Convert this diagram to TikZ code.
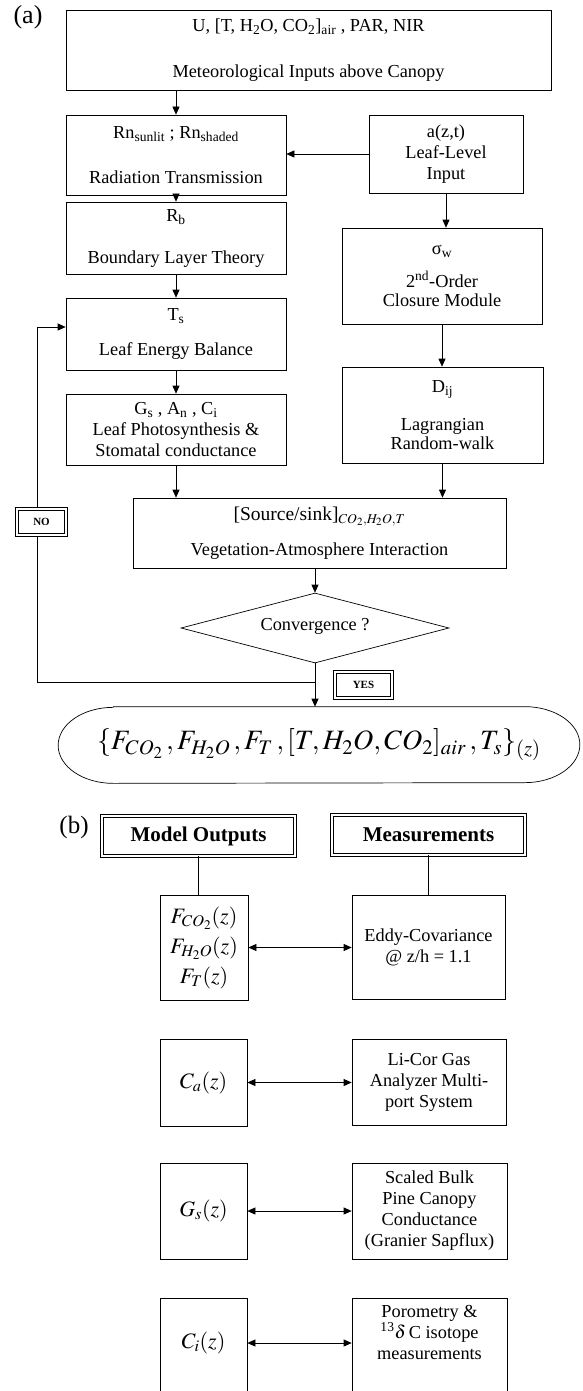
\documentclass[tikz,border=0pt]{standalone}
\usepackage{mathptmx}
\usepackage{fontspec}
\setmainfont{Liberation Serif}
\usepackage{tikz}
\usetikzlibrary{arrows.meta, positioning, shapes.geometric}

\begin{document}
\begin{tikzpicture}[x=1pt, y=-1pt, line width=0.7pt,
  >={Triangle[length=8pt, width=7pt]},
  font=\fontsize{18.3}{21}\selectfont,
  box/.style={draw, align=center, inner sep=0pt},
  dims/.style 2 args={minimum width=#1pt, minimum height=#2pt},
  tag/.style={draw, double, double distance=1.8pt, fill=white, inner sep=0pt,
    font=\fontsize{11}{13}\selectfont\bfseries},
  head/.style={draw, double, double distance=2.2pt, inner sep=0pt,
    font=\fontsize{21}{24}\selectfont\bfseries},
  mathbig/.style={font=\fontsize{22}{30}\selectfont},
  flow/.style={->},
  pair/.style={<->}]
  \useasboundingbox (0,0) rectangle (583,1391);
  \clip (0,0) rectangle (583,1391);
  % (a) flow chart
  \node[font=\fontsize{26}{28}\selectfont] (lbla) at (28,17) {(a)};
  \node[box, dims={485}{80}] (met) at (308.5,50)
    {U, [T, H\textsubscript{2}O, CO\textsubscript{2}]\textsubscript{air} , PAR, NIR\\[25pt] Meteorological Inputs above Canopy};
  \node[box, dims={220}{80}] (rn) at (176,155)
    {Rn\textsubscript{sunlit} ; Rn\textsubscript{shaded}\\[24pt] Radiation Transmission};
  \node[box, dims={154}{78}] (leaf) at (446,154) {a(z,t)\\ Leaf-Level\\ Input};
  \node[box, dims={220}{72}] (rb) at (176,238) {R\textsubscript{b}\\[21pt] Boundary Layer Theory};
  \node[box, dims={220}{72}] (ts) at (176,334) {T\textsubscript{s}\\[14pt] Leaf Energy Balance};
  \node[box, dims={220}{71}] (gs) at (176,429.5)
    {G\textsubscript{s} , A\textsubscript{n} , C\textsubscript{i}\\ Leaf Photosynthesis \&\\ Stomatal conductance};
  \node[box, dims={200}{96}] (sig) at (442,276)
    {σ\textsubscript{w}\\[12pt] 2\textsuperscript{nd}-Order\\[-2pt] Closure Module};
  \node[box, dims={201}{96}] (dij) at (442.5,415) {D\textsubscript{ij}\\[17pt] Lagrangian\\[-2pt] Random-walk};
  \node[box, dims={373}{70}] (src) at (319.5,533)
    {{\fontsize{19.5}{21}\selectfont[Source/sink]}$_{CO_2,H_2O,T}$\\[14pt] Vegetation-Atmosphere Interaction};
  \node[draw, diamond, aspect=3.8, dims={268}{70}, inner sep=0pt] (conv) at (315,628)
    {\raisebox{8pt}{Convergence ?}};
  \node[font=\fontsize{28}{32}\selectfont, dims={521}{76}, inner sep=0pt] (out) at (319,745)
    {$\{F_{CO_2}\,,F_{H_2O}\,,F_T\,,[T,H_2O,CO_2]_{air}\,,T_s\}_{(z)}$};
  \draw ([xshift=55pt]out.north west) -- ([xshift=-55pt]out.north east)
    arc[start angle=90, end angle=-90, x radius=55pt, y radius=38pt]
    -- ([xshift=55pt]out.south west)
    arc[start angle=270, end angle=90, x radius=55pt, y radius=38pt] -- cycle;
  % connectors
  \draw[flow] (met.south -| rn.north) -- (rn.north);
  \draw[flow] (leaf.west) -- (leaf.west -| rn.east);
  \draw[flow] (rn) -- (rb);
  \draw[flow] (rb) -- (ts);
  \draw[flow] (ts) -- (gs);
  \draw[flow] (gs.south) -- (gs.south |- src.north);
  \draw[flow] (leaf.south) -- (leaf.south |- sig.north);
  \draw[flow] (sig.south) -- (sig.south |- dij.north);
  \draw[flow] (dij.south) -- (dij.south |- src.north);
  \draw[flow] (conv.north |- src.south) -- (conv.north);
  \draw[flow] (conv.south) -- (conv.south |- out.north);
  \coordinate (join) at (conv.south |- 0,682);
  \coordinate (back) at (37,682);
  \draw[flow] (join) -- (back) |- ([yshift=7pt]ts.west);
  \node[tag, dims={49}{26}] (no) at (41.5,522) {NO};
  \node[tag, dims={57}{26}] (yes) at (363.5,685) {YES};
  % (b) model outputs vs measurements
  \node[font=\fontsize{25}{28}\selectfont] (lblb) at (74,827) {(b)};
  \node[head, dims={193}{40}] (mo) at (198.5,836) {Model Outputs};
  \node[head, dims={193}{40}] (meas) at (428.5,835) {Measurements};
  \node[box, dims={88}{105}, mathbig] (fl) at (204,947.5) {$F_{CO_2}(z)$\\ $F_{H_2O}(z)$\\ $F_T(z)$};
  \node[box, dims={153}{104}] (eddy) at (428.5,947) {Eddy-Covariance\\ @ z/h = 1.1};
  \node[box, dims={87}{87}, mathbig] (ca) at (203.5,1082.5) {$C_a(z)$};
  \node[box, dims={154}{86}] (licor) at (429,1082) {Li-Cor Gas\\ Analyzer Multi-\\ port System};
  \node[box, dims={87}{96}, mathbig] (gsb) at (203.5,1211) {$G_s(z)$};
  \node[box, dims={155}{96}] (scaled) at (429.5,1211)
    {Scaled Bulk\\ Pine Canopy\\ Conductance\\ (Granier Sapflux)};
  \node[box, dims={87}{104}, label={[mathbig, yshift=7pt]center:{$C_i(z)$}}] (ci) at (203.5,1350) {};
  \node[box, dims={155}{104},
    label={[align=center, anchor=north, yshift=-4pt]north:{Porometry \&\\ \textsuperscript{13}$\delta$\,C isotope\\ measurements}}]
    (poro) at (429.5,1350) {};
  \draw (mo.south) -- (mo.south |- fl.north);
  \draw (meas.south) -- (meas.south |- eddy.north);
  \draw[pair] (fl.east) -- (fl.east -| eddy.west);
  \draw[pair] (ca.east) -- (ca.east -| licor.west);
  \draw[pair] (gsb.east) -- (gsb.east -| scaled.west);
  \draw[pair] ([yshift=7pt]ci.east) -- ([yshift=7pt]ci.east -| poro.west);
\end{tikzpicture}
\end{document}
